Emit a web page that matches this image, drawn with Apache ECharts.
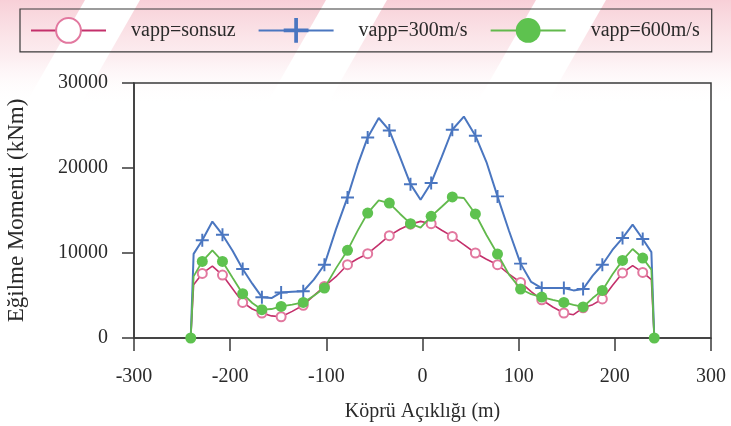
<!DOCTYPE html>
<html>
<head>
<meta charset="utf-8">
<script src="https://cdn.jsdelivr.net/npm/echarts@6/dist/echarts.min.js"></script>
<style>
  html, body { margin: 0; padding: 0; background: #ffffff; }
  #chart { width: 731px; height: 426px; }
</style>
</head>
<body>
<div id="chart"></div>
<script>
// Span positions along the bridge (m)
const spanX = [-241, -238, -229, -218.5, -208, -197.5, -187, -177, -167, -157, -147, -135.5, -124, -113, -102, -90, -78, -67.5, -57, -45.5, -34.5, -23.5, -12.5, -2, 9, 20, 31, 43, 55, 66.5, 78, 90, 102, 113, 124, 135.5, 147, 157, 167, 177, 187, 197.5, 208, 218.5, 229, 238, 241];

// Bending moments (kNm) for each apparent wave velocity
const momentInfinite = [0, 6270, 7600, 8450, 7400, 5800, 4190, 3410, 2940, 2600, 2500, 3130, 3850, 4980, 6070, 7210, 8620, 9330, 9920, 10980, 12040, 12800, 13390, 13720, 13450, 12680, 11950, 10980, 10000, 9270, 8620, 7500, 6540, 5450, 4500, 3650, 2940, 2740, 3550, 3920, 4590, 6180, 7650, 8510, 7720, 6860, 0];
const moment300 = [0, 9900, 11500, 13700, 12150, 10270, 8120, 6390, 4800, 4700, 5360, 5450, 5500, 6860, 8620, 12780, 16540, 20330, 23600, 25880, 24420, 21300, 18100, 16270, 18240, 21300, 24500, 26050, 23800, 20700, 16660, 12590, 8750, 6590, 5880, 5880, 5880, 5600, 5760, 7330, 8620, 10360, 11760, 13330, 11650, 10100, 0];
const moment600 = [0, 7250, 9010, 10310, 9010, 7090, 5210, 4120, 3330, 3410, 3720, 3920, 4190, 4980, 5880, 8190, 10310, 12600, 14700, 16190, 15880, 14620, 13450, 12980, 14310, 15440, 16590, 16470, 14590, 12120, 9880, 7450, 5760, 5150, 4820, 4480, 4190, 3890, 3650, 4700, 5600, 7480, 9130, 10470, 9410, 8040, 0];

const seriesNames = ['vapp=sonsuz', 'vapp=300m/s', 'vapp=600m/s'];

// Axis ticks
const xTicks = [-300, -200, -100, 0, 100, 200, 300];
const yTicks = [0, 10000, 20000, 30000];

const FONT = '"Liberation Serif", "DejaVu Serif", serif';
const PLUS = 'path://M-1.5,-10L1.5,-10L1.5,-1.5L10,-1.5L10,1.5L1.5,1.5L1.5,10L-1.5,10L-1.5,1.5L-10,1.5L-10,-1.5L-1.5,-1.5Z';

// Symbols sit on every second station; the support end points only carry a symbol when asked
function buildData(values, markEnds) {
  const last = spanX.length - 1;
  return spanX.map((x, i) => {
    const isEnd = i === 0 || i === last;
    const marked = isEnd ? markEnds : i % 2 === 0;
    const item = { value: [x, values[i]] };
    if (!marked) item.symbol = 'none';
    return item;
  });
}

// Faint diagonal bands across the top of the sheet
const bandTops = [[-90, 85], [140, 326], [387, 536], [606, 800]];
const bandDepth = 105, bandSlant = 60;
const bands = bandTops.map(([a, b]) => ({
  type: 'polygon',
  silent: true,
  z: -10,
  shape: { points: [[a, 0], [b, 0], [b - bandSlant, bandDepth], [a - bandSlant, bandDepth]] },
  style: {
    fill: {
      type: 'linear', x: 0, y: 0, x2: 0, y2: 1,
      colorStops: [
        { offset: 0, color: 'rgba(236,130,150,0.38)' },
        { offset: 0.55, color: 'rgba(240,160,175,0.18)' },
        { offset: 1, color: 'rgba(255,255,255,0)' }
      ]
    }
  }
}));

const chart = echarts.init(document.getElementById('chart'), null, { renderer: 'canvas' });

chart.setOption({
  animation: false,
  backgroundColor: '#ffffff',
  graphic: bands,
  textStyle: { fontFamily: FONT },
  legend: {
    left: 20,
    top: 9,
    padding: [8, 12, 8, 10],
    itemWidth: 75,
    itemHeight: 31,
    itemGap: 22,
    borderColor: '#3a3a3a',
    borderWidth: 1.2,
    data: seriesNames,
    textStyle: { fontFamily: FONT, fontSize: 20, color: '#2a2a2a', padding: [0, 0, 0, 20] }
  },
  grid: {
    left: 134, right: 20, top: 83, bottom: 88,
    outerBoundsMode: 'none',
    containLabel: false,
    show: true, borderColor: '#3a3a3a', borderWidth: 1.5,
    backgroundColor: 'transparent'
  },
  xAxis: {
    type: 'value',
    min: xTicks[0], max: xTicks[xTicks.length - 1], interval: 100,
    name: 'Köprü Açıklığı (m)',
    nameLocation: 'middle',
    nameGap: 64,
    nameTextStyle: { fontFamily: FONT, fontSize: 20, color: '#2a2a2a' },
    axisLine: { onZero: false, lineStyle: { color: '#3a3a3a', width: 1.5 } },
    axisTick: { show: true, inside: false, length: 13, lineStyle: { color: '#3a3a3a', width: 1.5 } },
    axisLabel: { margin: 29, fontFamily: FONT, fontSize: 20, color: '#2a2a2a' },
    splitLine: { show: false }
  },
  yAxis: {
    type: 'value',
    min: yTicks[0], max: yTicks[yTicks.length - 1], interval: 10000,
    name: 'Eğilme Momenti (kNm)',
    nameLocation: 'middle',
    nameGap: 106,
    nameTextStyle: { fontFamily: FONT, fontSize: 23, color: '#2a2a2a' },
    axisLine: { onZero: false, lineStyle: { color: '#3a3a3a', width: 1.5 } },
    axisTick: { show: true, inside: false, length: 12, lineStyle: { color: '#3a3a3a', width: 1.5 } },
    axisLabel: {
      margin: 26, fontFamily: FONT, fontSize: 20, color: '#2a2a2a',
      formatter: (v) => String(v)
    },
    splitLine: { show: false }
  },
  series: [
    {
      name: seriesNames[0],
      type: 'line',
      data: buildData(momentInfinite, false),
      showAllSymbol: true,
      symbol: 'emptyCircle',
      symbolSize: 9,
      lineStyle: { color: '#c4306b', width: 1.6 },
      itemStyle: { color: '#e2789f', borderColor: '#e2789f', borderWidth: 1 },
      z: 2
    },
    {
      name: seriesNames[1],
      type: 'line',
      data: buildData(moment300, false),
      showAllSymbol: true,
      symbol: PLUS,
      symbolSize: 13,
      lineStyle: { color: '#4a76c0', width: 2 },
      itemStyle: { color: '#4a76c0' },
      z: 3
    },
    {
      name: seriesNames[2],
      type: 'line',
      data: buildData(moment600, true),
      showAllSymbol: true,
      symbol: 'circle',
      symbolSize: 11,
      lineStyle: { color: '#62b94c', width: 1.8 },
      itemStyle: { color: '#5ec24f' },
      z: 4
    }
  ]
});
</script>
</body>
</html>
